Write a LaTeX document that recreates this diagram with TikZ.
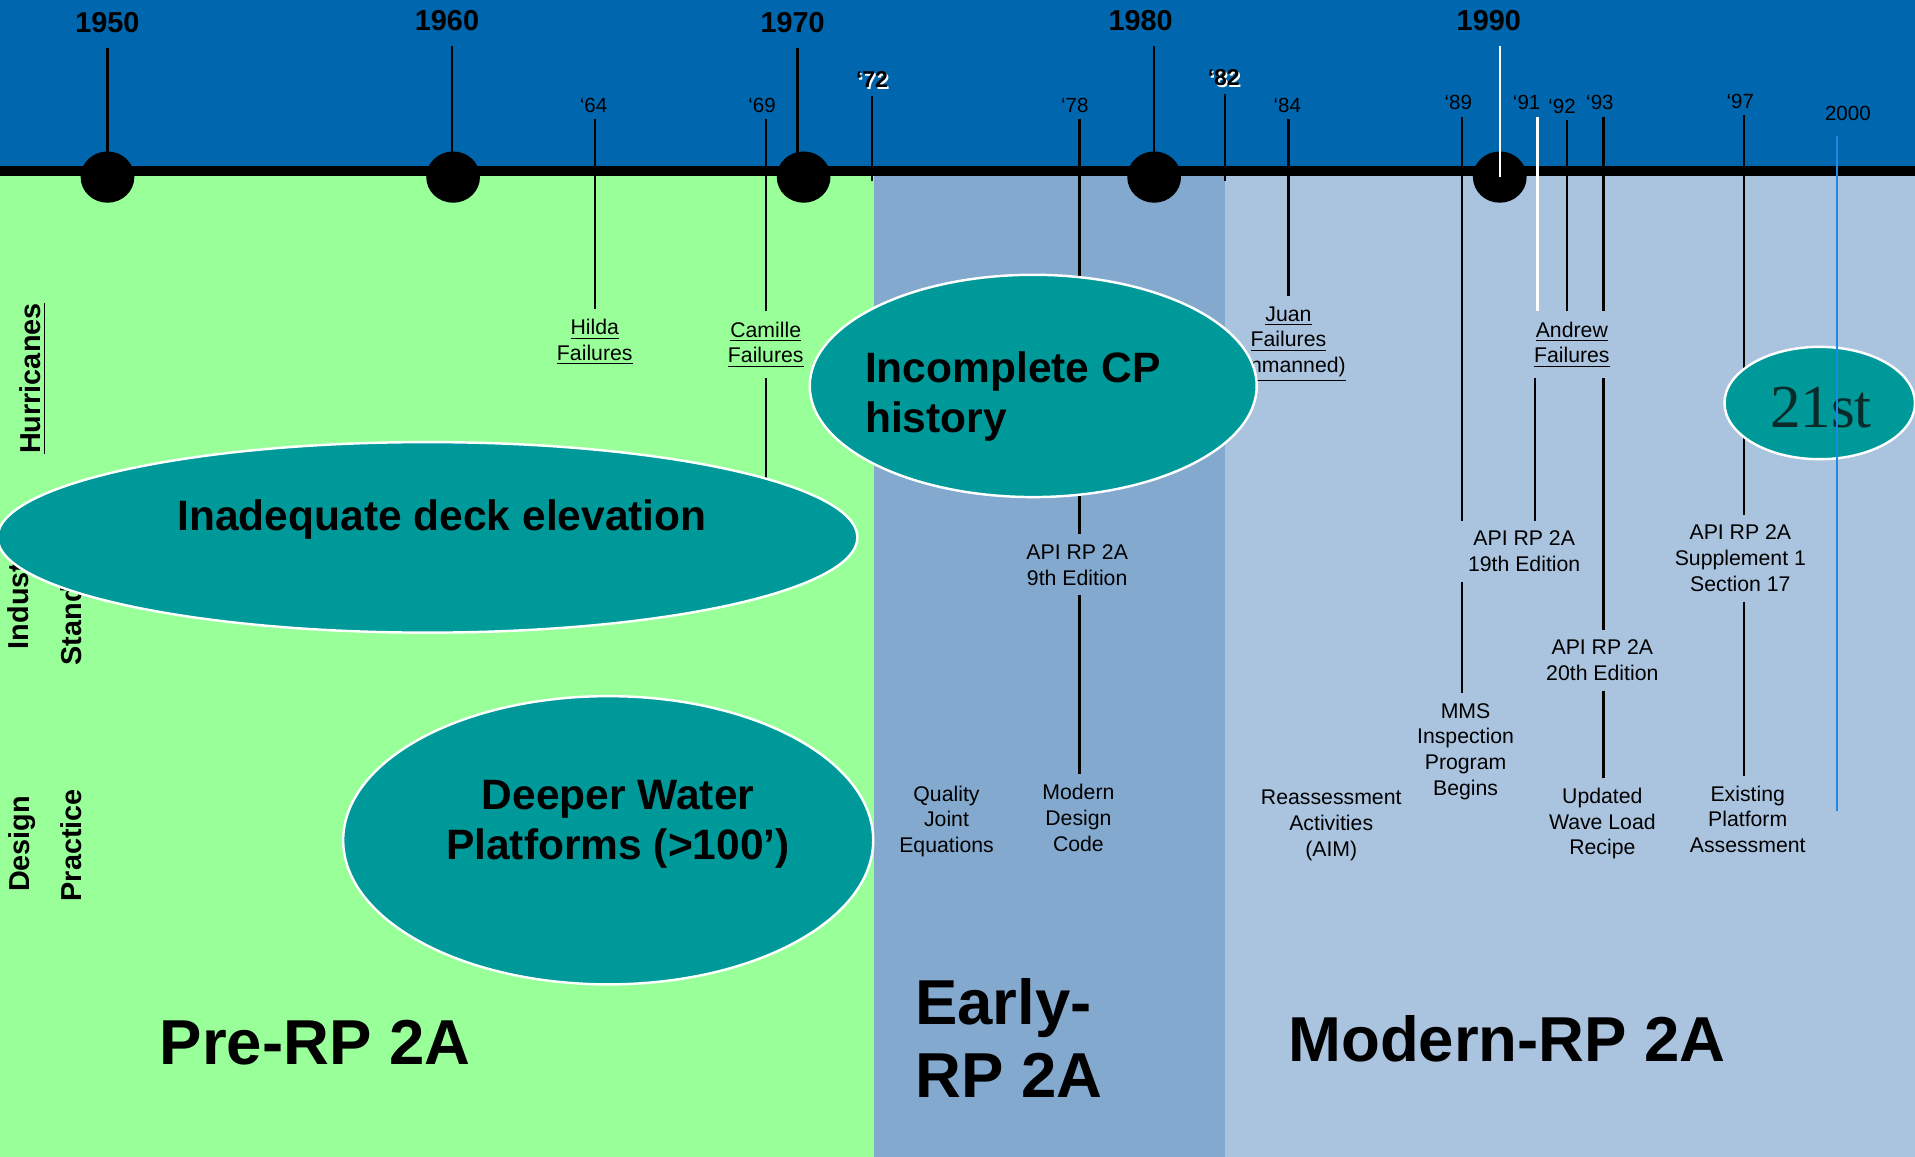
\documentclass[tikz,border=0pt]{standalone}
\usepackage{fontspec}
\setmainfont{Liberation Sans}
\newfontfamily\serifA{Liberation Serif}
\usetikzlibrary{shapes.geometric}
\definecolor{topblue}{HTML}{0066AE}
\definecolor{greenbg}{HTML}{99FF99}
\definecolor{earlybg}{HTML}{84A9CF}
\definecolor{modernbg}{HTML}{AAC4DF}
\definecolor{tealfill}{HTML}{009999}
\definecolor{blueline}{HTML}{1E88E5}
\definecolor{darktxt}{HTML}{0B2B2B}
\begin{document}
\begin{tikzpicture}[x=0.5pt,y=-0.5pt,
  yearlbl/.style={font=\fontsize{11.8}{14}\selectfont\bfseries, inner xsep=0pt, inner ysep=6pt, anchor=base},
  ticklbl/.style={font=\fontsize{8.4}{10}\selectfont, inner xsep=0pt, inner ysep=2.5pt, anchor=base},
  boldtick/.style={font=\fontsize{9.4}{11}\selectfont\bfseries, inner xsep=0pt, inner ysep=3pt, anchor=base},
  evlbl/.style={font=\fontsize{8.7}{10.5}\selectfont, align=center, inner xsep=1pt, inner ysep=4pt, anchor=base},
  bubble/.style={ellipse, fill=tealfill, draw=white, line width=1pt, inner sep=0pt},
  bubtxt/.style={font=\fontsize{17.4}{20.5}\selectfont\bfseries, inner sep=0pt, anchor=base},
  eratxt/.style={font=\fontsize{26}{30}\selectfont\bfseries, inner sep=0pt, anchor=base},
  sidelbl/.style={font=\fontsize{11.8}{14}\selectfont\bfseries, rotate=90, inner sep=0pt, anchor=base},
  yeardot/.style={ellipse, fill=black, minimum width=22pt, minimum height=21pt, inner sep=0pt},
  tick/.style={line width=1pt, draw=black},
]
\useasboundingbox (0,0) rectangle (1568,947);
% backgrounds
\fill[topblue] (0,0) rectangle (1568,140);
\fill[greenbg] (0,140) rectangle (716,947);
\fill[earlybg] (716,140) rectangle (1003,947);
\fill[modernbg] (1003,140) rectangle (1568,947);
\draw[line width=4pt] (0,140) -- (1568,140);

% year dots
\node[yeardot] (c1950) at (88,145) {};
\node[yeardot] (c1960) at (371,145) {};
\node[yeardot] (c1970) at (658,145) {};
\node[yeardot] (c1980) at (945,145) {};
\node[yeardot] (c1990) at (1228,145) {};

% x positions of lines
\coordinate (k1950) at (88,0);
\coordinate (k1960) at (370,0);
\coordinate (k1970) at (653,0);
\coordinate (k1980) at (945,0);
\coordinate (k1990) at (1228,0);
\coordinate (k64) at (487,0);
\coordinate (k69) at (627,0);
\coordinate (k72) at (714,0);
\coordinate (k78) at (884,0);
\coordinate (k82) at (1003,0);
\coordinate (k84) at (1055,0);
\coordinate (k89) at (1197,0);
\coordinate (k91) at (1259,0);
\coordinate (k91b) at (1257,0);
\coordinate (k92) at (1283,0);
\coordinate (k93) at (1313,0);
\coordinate (k97) at (1428,0);
\coordinate (k2000) at (1504,0);

% year labels
\node[yearlbl] (y1950) at (88,27) {1950};
\node[yearlbl] (y1960) at (366,25) {1960};
\node[yearlbl] (y1970) at (649,27) {1970};
\node[yearlbl] (y1980) at (934,25) {1980};
\node[yearlbl] (y1990) at (1219,25) {1990};

\node[ticklbl] (y64) at (486,92) {‘64};
\node[ticklbl] (y69) at (624,92) {‘69};
\node[ticklbl] (y78) at (880,92) {‘78};
\node[ticklbl] (y84) at (1054,92) {‘84};
\node[ticklbl] (y89) at (1194,90) {‘89};
\node[ticklbl] (y91) at (1250,90) {‘91};
\node[ticklbl] (y92) at (1279,93) {‘92};
\node[ticklbl] (y93) at (1310,90) {‘93};
\node[ticklbl] (y97) at (1425,89) {‘97};
\node[ticklbl, inner ysep=6pt] (y2000) at (1513,99) {2000};
\node[boldtick, white] (y72s) at (715.3,73.3) {‘72};
\node[boldtick] (y72) at (714,72) {‘72};
\node[boldtick, white] (y82s) at (1003.3,71.3) {‘82};
\node[boldtick] (y82) at (1002,70) {‘82};
\coordinate (e72) at (714,148);
\coordinate (e82) at (1003,148);
\coordinate (e2000) at (1504,664);
\coordinate (inadtop) at (627,420);

% side labels
\node[sidelbl] (hurr) at (33,310) {\underline{Hurricanes}};
\node[sidelbl] (indus) at (23,485) {Industry};
\node[sidelbl] (stand) at (67,487) {Standards};
\node[sidelbl] (design) at (24,691) {Design};
\node[sidelbl] (pract) at (67,692) {Practice};

% event labels (anchor at the baseline of the last line)
\node[evlbl] (hilda) at (487,295) {\underline{Hilda}\\\underline{Failures}};
\node[evlbl] (camille) at (627,297) {\underline{Camille}\\\underline{Failures}};
\node[evlbl] (juan) at (1055,305) {\underline{Juan}\\\underline{Failures}\\\underline{(unmanned)}};
\node[evlbl] (andrew) at (1287,297) {\underline{Andrew}\\\underline{Failures}};
\node[evlbl] (api9) at (882,479) {API RP 2A\\9th Edition};
\node[evlbl] (api19) at (1248,468) {API RP 2A\\19th Edition};
\node[evlbl] (supp) at (1425,484) {API RP 2A\\Supplement 1\\Section 17};
\node[evlbl] (api20) at (1312,557) {API RP 2A\\20th Edition};
\node[evlbl] (mms) at (1200,651) {MMS\\Inspection\\Program\\Begins};
\node[evlbl] (quality) at (775,698) {Quality\\Joint\\Equations};
\node[evlbl] (modern) at (883,697) {Modern\\Design\\Code};
\node[evlbl] (reass) at (1090,701) {Reassessment\\Activities\\(AIM)};
\node[evlbl] (updated) at (1312,700) {Updated\\Wave Load\\Recipe};
\node[evlbl] (existing) at (1431,698) {Existing\\Platform\\Assessment};

% connector lines
\draw[tick] (k1950 |- y1950.south) -- (k1950 |- c1950.center);
\draw[tick] (k1960 |- y1960.south) -- (k1960 |- c1960.center);
\draw[tick] (k1970 |- y1970.south) -- (k1970 |- c1970.center);
\draw[tick] (k1980 |- y1980.south) -- (k1980 |- c1980.center);
\draw[tick, draw=white] (k1990 |- y1990.south) -- (k1990 |- c1990.center);
\draw[tick] (k72 |- y72.south) -- (e72);
\draw[tick] (k82 |- y82.south) -- (e82);
\draw[tick] (k64 |- y64.south) -- (k64 |- hilda.north);
\draw[tick] (k69 |- y69.south) -- (k69 |- camille.north);
\draw[tick] (k69 |- camille.south) -- (inadtop);
\draw[tick] (k78 |- y78.south) -- (k78 |- api9.north);
\draw[tick] (k78 |- api9.south) -- (k78 |- modern.north);
\draw[tick] (k84 |- y84.south) -- (k84 |- juan.north);
\draw[tick] (k89 |- y89.south) -- (k89 |- api19.north);
\draw[tick] (k89 |- api19.south) -- (k89 |- mms.north);
\draw[tick, draw=white] (k91 |- y91.south) -- (k91 |- andrew.north);
\draw[tick] (k91b |- andrew.south) -- (k91b |- api19.north);
\draw[tick] (k92 |- y92.south) -- (k92 |- andrew.north);
\draw[tick] (k93 |- y93.south) -- (k93 |- andrew.north);
\draw[tick] (k93 |- andrew.south) -- (k93 |- api20.north);
\draw[tick] (k93 |- api20.south) -- (k93 |- updated.north);
\draw[tick] (k97 |- y97.south) -- (k97 |- supp.north);
\draw[tick] (k97 |- supp.south) -- (k97 |- existing.north);

% bubbles
\node[bubble, minimum width=352pt, minimum height=78pt] (inad) at (350,440) {};
\node[bubble, minimum width=183pt, minimum height=91pt] (cp) at (846,316) {};
\node[bubble, minimum width=217pt, minimum height=118pt] (deep) at (498,688) {};
\node[bubble, minimum width=78pt, minimum height=46pt] (c21) at (1490,330) {};

\node[bubtxt] (inadtxt) at (362,434) {Inadequate deck elevation};
\node[bubtxt, align=left, anchor=base west] (cptxt) at (708,354) {Incomplete CP\\history};
\node[bubtxt, align=center] (deeptxt) at (506,704) {Deeper Water\\Platforms (>100’)};
\node[inner sep=0pt, anchor=base, text=darktxt, font=\serifA\fontsize{25}{30}\selectfont] (t21) at (1491,350) {21st};

\draw[line width=1pt, draw=blueline] (k2000 |- y2000.south) -- (e2000);

% era labels
\node[eratxt] (pre) at (258,872) {Pre-RP 2A};
\node[eratxt, align=left, anchor=base west] (early) at (749,899) {Early-\\RP 2A};
\node[eratxt] (modrp) at (1234,869) {Modern-RP 2A};
\end{tikzpicture}
\end{document}
